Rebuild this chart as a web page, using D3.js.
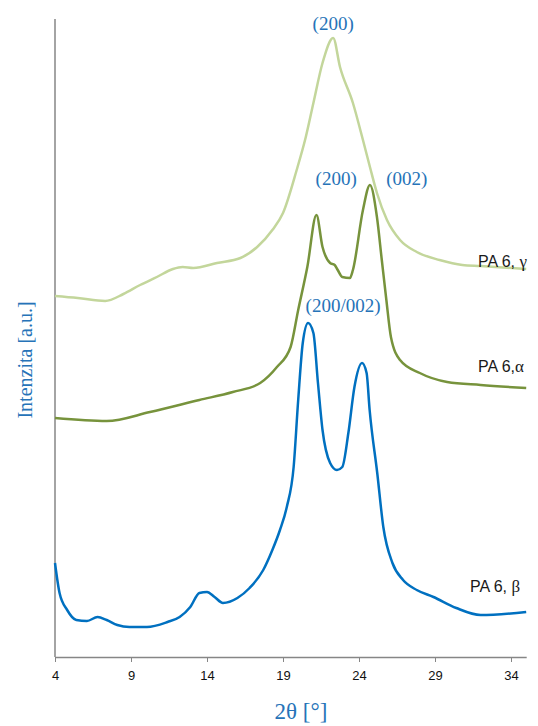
<!DOCTYPE html>
<html>
<head>
<meta charset="utf-8">
<script src="https://cdn.jsdelivr.net/npm/d3@7"></script>
<style>
  body { margin: 0; background: #fff; }
  svg { display: block; }
</style>
</head>
<body>
<svg width="538" height="726"></svg>
<script>
// 2θ ticks shown on the x axis
const xTicks = [4, 9, 14, 19, 24, 29, 34];

// diffractograms: [2θ, intensity a.u.]
const gamma = [
  [4, 361], [5.5, 359], [7.3, 356], [8.5, 363], [9.6, 372], [10.7, 380], [11.76, 388],
  [12.4, 390], [13.1, 389], [14.66, 394], [16.2, 399], [17.3, 410], [18.3, 427],
  [19.0, 444], [19.9, 487], [20.5, 520], [21.0, 554], [21.6, 594], [22.3, 619],
  [22.75, 590], [23.6, 554], [24.26, 517], [24.72, 490], [25.18, 464], [25.84, 437],
  [26.7, 417], [27.8, 405], [29.3, 397], [30.8, 392], [32.0, 391], [35, 388]
];
const alpha = [
  [4, 239], [7.4, 236], [10.25, 245], [13.5, 257], [15.7, 265], [17.5, 274],
  [18.6, 290], [19.5, 310], [20.0, 347], [20.6, 390], [21.2, 442], [21.6, 410],
  [22.1, 394], [22.4, 392], [22.6, 387], [22.9, 380], [23.4, 379], [23.6, 387],
  [24.26, 447], [24.72, 472], [25.18, 440], [25.5, 397], [25.8, 357],
  [26.1, 320], [26.7, 297], [28.0, 284], [29.8, 275], [32, 272], [35, 269]
];
const beta = [
  [4, 94], [4.3, 64], [4.8, 47], [5.4, 37], [6.1, 36], [6.8, 40], [7.4, 37],
  [8.1, 32], [8.9, 30], [10.05, 30], [11.4, 35], [12.2, 40], [12.9, 50],
  [13.5, 64], [14.0, 65], [14.5, 60], [15.05, 54], [16.0, 59], [16.8, 69],
  [17.7, 87], [18.3, 107], [18.8, 127], [19.25, 150], [19.7, 190], [20.0, 257],
  [20.3, 314], [20.65, 334], [21.0, 324], [21.3, 274], [21.6, 227], [22.1, 194],
  [22.55, 187], [22.9, 190], [23.3, 224], [23.7, 270], [24.2, 294], [24.5, 284],
  [24.7, 247], [25.2, 184], [25.6, 130], [26.2, 94], [26.9, 77], [27.8, 67],
  [28.9, 60], [30.4, 49], [32, 42], [35, 45]
];

// series names and peak (hkl) annotations [2θ, intensity, text]
const seriesNames = ["PA 6, ", "PA 6,", "PA 6, "];
const seriesGreek = ["γ", "α", "β"];
const peakLabels = [
  [22.3, 627, "(200)"],
  [22.5, 472, "(200)"],
  [27.15, 472, "(002)"],
  [22.95, 345, "(200/002)"]
];

const svg = d3.select("svg");
const margin = { top: 19, left: 55 };
const plotBottom = 657;

const x = d3.scaleLinear().domain([4, 35]).range([55, 526.2]);
const y = d3.scaleLinear().domain([0, 638]).range([plotBottom, margin.top]);

// y axis: plain line, no ticks
svg.append("line")
  .attr("x1", x(4)).attr("x2", x(4))
  .attr("y1", y(638)).attr("y2", y(0))
  .attr("stroke", "#868686").attr("stroke-width", 1.5);

// x axis
const xAxis = svg.append("g")
  .attr("transform", `translate(0,${plotBottom})`)
  .call(d3.axisBottom(x).tickValues(xTicks).tickSize(5).tickPadding(9).tickSizeOuter(0));
xAxis.select(".domain").attr("stroke", "#868686").attr("stroke-width", 1.5);
xAxis.selectAll(".tick line").attr("stroke", "#868686");
xAxis.selectAll(".tick text")
  .attr("fill", "#111")
  .style("font-family", "Liberation Sans, Arial, sans-serif")
  .style("font-size", "13px");

const line = d3.line()
  .x(d => x(d[0]))
  .y(d => y(d[1]))
  .curve(d3.curveMonotoneX);
const colors = ["#C3D69B", "#77933C", "#0070C0"];

[gamma, alpha, beta].forEach((s, i) => {
  svg.append("path")
    .datum(s)
    .attr("d", line)
    .attr("fill", "none")
    .attr("stroke", colors[i])
    .attr("stroke-width", 2.5)
    .attr("stroke-linejoin", "round");
});

// series labels at the right
const nameAt = [[478, 388 + 2], [478, 269 + 16], [470, 45 + 20]];
seriesNames.forEach((n, i) => {
  const t = svg.append("text")
    .attr("x", nameAt[i][0])
    .attr("y", y(nameAt[i][1]))
    .attr("fill", "#1a1a1a")
    .style("font-family", "Liberation Sans, Arial, sans-serif")
    .style("font-size", "16px")
    .text(n);
  t.append("tspan")
    .style("font-family", "Liberation Serif, Times New Roman, serif")
    .style("font-size", "17px")
    .text(seriesGreek[i]);
});

// peak annotations
svg.append("g").selectAll("text")
  .data(peakLabels)
  .join("text")
  .attr("x", d => x(d[0]))
  .attr("y", d => y(d[1]))
  .attr("text-anchor", "middle")
  .attr("fill", "#2673B8")
  .style("font-family", "Liberation Serif, Times New Roman, serif")
  .style("font-size", "19px")
  .text(d => d[2]);

// axis titles
svg.append("text")
  .attr("x", 301).attr("y", 719)
  .attr("text-anchor", "middle")
  .attr("fill", "#2673B8")
  .style("font-family", "Liberation Serif, Times New Roman, serif")
  .style("font-size", "23px")
  .text("2θ [°]");

svg.append("text")
  .attr("transform", "translate(32,360) rotate(-90)")
  .attr("text-anchor", "middle")
  .attr("fill", "#2673B8")
  .style("font-family", "Liberation Serif, Times New Roman, serif")
  .style("font-size", "20px")
  .text("Intenzita [a.u.]");
</script>
</body>
</html>
